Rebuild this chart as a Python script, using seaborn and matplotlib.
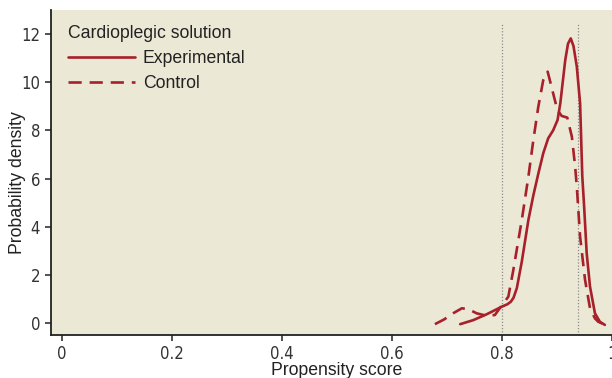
import matplotlib
matplotlib.use("Agg")
import matplotlib.pyplot as plt
import seaborn as sns
import pandas as pd
from matplotlib import font_manager

# ---- data ----
exp_x = [0.724, 0.748, 0.772, 0.800, 0.810, 0.816, 0.821, 0.827, 0.836, 0.848, 0.857, 0.866,
         0.875, 0.884, 0.893, 0.901, 0.906, 0.915, 0.920, 0.925, 0.930, 0.936, 0.942,
         0.946, 0.949, 0.954, 0.960, 0.969, 0.978, 0.987]
exp_y = [-0.05, 0.12, 0.36, 0.68, 0.78, 0.88, 1.05, 1.45, 2.55, 4.28, 5.30, 6.20,
         7.05, 7.67, 8.00, 8.43, 9.12, 10.92, 11.60, 11.82, 11.50, 10.65, 9.12,
         6.08, 4.97, 2.89, 1.51, 0.40, 0.05, -0.08]

ctl_x = [0.678, 0.695, 0.711, 0.727, 0.739, 0.754, 0.772, 0.787, 0.799, 0.8115, 0.8206,
         0.836, 0.848, 0.857, 0.866, 0.875, 0.883, 0.890, 0.9006, 0.9085, 0.9187,
         0.927, 0.933, 0.936, 0.942, 0.951, 0.960, 0.969, 0.975, 0.984]
ctl_y = [-0.05, 0.15, 0.40, 0.61, 0.57, 0.40, 0.30, 0.33, 0.71, 1.09, 2.20,
         4.28, 6.08, 7.60, 8.98, 10.09, 10.44, 9.81, 8.85, 8.60, 8.53,
         7.74, 6.49, 5.66, 3.58, 1.79, 0.61, 0.19, 0.05, -0.04]

groups = ["Experimental", "Control"]
ref_lines = [0.80, 0.938]
x_ticks = [0, 0.2, 0.4, 0.6, 0.8, 1.0]
x_tick_labels = ["0", "0.2", "0.4", "0.6", "0.8", "1"]
y_ticks = [0, 2, 4, 6, 8, 10, 12]
legend_title = "Cardioplegic solution"
x_label = "Propensity score"
y_label = "Probability density"

df = pd.concat([
    pd.DataFrame({"x": exp_x, "y": exp_y, "group": groups[0]}),
    pd.DataFrame({"x": ctl_x, "y": ctl_y, "group": groups[1]}),
], ignore_index=True)

# ---- style ----
sns.set_theme(style="ticks")
plt.rcParams["font.family"] = ["Liberation Sans", "DejaVu Sans"]
names = {f.name for f in font_manager.fontManager.ttflist}
if "Liberation Sans Narrow" in names:
    tick_font = dict(family="Liberation Sans Narrow")
else:
    tick_font = dict(family="DejaVu Sans", stretch="condensed")

RED = "#A7202A"
BG = "#ECE8D6"

fig = plt.figure(figsize=(6.12, 3.78), dpi=100)
ax = fig.add_axes([51 / 612, 43 / 378, 561 / 612, 325 / 378])
ax.set_facecolor(BG)

sns.lineplot(data=df, x="x", y="y", hue="group", style="group",
             hue_order=groups, style_order=groups,
             palette={groups[0]: RED, groups[1]: RED},
             dashes={groups[0]: "", groups[1]: (5, 3)},
             sort=False, estimator=None, linewidth=1.9, ax=ax)

ax.vlines(ref_lines, -0.5, 12.4, colors="#8a8a8a", linestyles=(0, (1, 1.5)),
          linewidth=0.9, zorder=1)

ax.set_xlim(-0.02, 1.0)
ax.set_ylim(-0.5, 13.0)
ax.set_xticks(x_ticks)
ax.set_xticklabels(x_tick_labels)
ax.set_yticks(y_ticks)
for lab in ax.get_xticklabels() + ax.get_yticklabels():
    lab.set(**tick_font)
    lab.set_fontsize(12)
    lab.set_color("#333333")
ax.tick_params(axis="both", direction="out", length=4.3, width=1.1, color="#222222")
ax.tick_params(axis="y", pad=3.5)
ax.tick_params(axis="x", pad=3)

for s in ["top", "right"]:
    ax.spines[s].set_visible(False)
for s in ["left", "bottom"]:
    ax.spines[s].set_linewidth(1.3)
    ax.spines[s].set_color("#222222")

ax.set_xlabel(x_label, fontsize=12.7, color="#222222")
ax.set_ylabel(y_label, fontsize=12.7, color="#222222")
ax.xaxis.set_label_coords(0.51, -0.083)
ax.yaxis.set_label_coords(-0.045, 0.468)

handles, labels = ax.get_legend_handles_labels()
leg = ax.legend(handles, labels, title=legend_title, loc="upper left",
                bbox_to_anchor=(0.008, 0.992), frameon=False, fontsize=12.7,
                title_fontsize=12.7, handlelength=3.8, handletextpad=0.45,
                labelspacing=0.45, borderpad=0.2, alignment="left")
for t in leg.get_texts():
    t.set_color("#222222")
leg.get_title().set_color("#222222")

fig.savefig("out.png", dpi=100)
